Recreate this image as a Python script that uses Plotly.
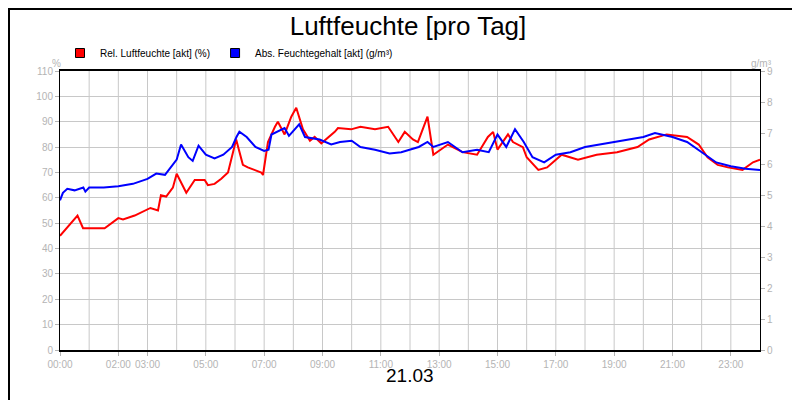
import plotly.graph_objects as go

# Relative humidity (%), hours since midnight
rel_hours = [0, 0.5, 0.6, 0.79, 1.53, 2.0, 2.16, 2.56, 3.1, 3.36, 3.46, 3.64, 3.87, 4.0, 4.33,
             4.62, 4.96, 5.07, 5.3, 5.53, 5.76, 6.04, 6.27, 6.44, 6.9, 6.96, 7.13, 7.37, 7.47,
             7.7, 7.93, 8.1, 8.33, 8.57, 8.73, 8.96, 9.42, 9.53, 9.98, 10.3, 10.8, 11.25, 11.6,
             11.82, 12.1, 12.27, 12.6, 12.8, 13.3, 13.8, 14.3, 14.67, 14.85, 15.0, 15.36, 15.53,
             15.87, 16.0, 16.4, 16.7, 17.2, 17.76, 18.4, 19.1, 19.8, 20.2, 20.8, 21.5, 21.9,
             22.2, 22.55, 22.9, 23.4, 23.76, 24.0]
rel_values = [45, 52, 53, 48, 48, 52, 51.5, 53, 56, 55, 61, 60.5, 64, 69.5, 62,
              67, 67, 65, 65.5, 67.5, 70, 83, 73, 72, 70, 69, 82, 88, 90,
              85, 92, 95.5, 87, 82.5, 84, 81.5, 86, 87.5, 87, 88, 87, 88, 82,
              86, 83, 82, 92, 77, 81, 78, 77, 84, 86, 79, 85, 82,
              80, 76, 71, 72, 77, 75, 77, 78, 80, 83, 85, 84, 81,
              76, 73, 72, 71, 74, 75]

# Absolute moisture content (g/m³)
abs_hours = [0, 0.1, 0.25, 0.5, 0.8, 0.87, 1.0, 1.5, 2.0, 2.5, 3.0, 3.3, 3.6, 3.9, 4.0, 4.15,
             4.4, 4.55, 4.75, 5.0, 5.3, 5.6, 5.9, 6.05, 6.15, 6.4, 6.7, 7.0, 7.15, 7.25, 7.45,
             7.7, 7.85, 8.2, 8.4, 8.9, 9.3, 9.6, 10.0, 10.3, 10.8, 11.3, 11.7, 12.0, 12.3,
             12.6, 12.8, 13.3, 13.8, 14.3, 14.7, 15.0, 15.3, 15.6, 15.9, 16.2, 16.6, 17.0,
             17.5, 18.0, 18.5, 19.0, 19.5, 20.0, 20.4, 21.0, 21.5, 22.0, 22.5, 23.0, 23.5, 24.0]
abs_values = [4.83, 5.07, 5.2, 5.15, 5.24, 5.11, 5.24, 5.24, 5.28, 5.36, 5.52, 5.69, 5.65, 6.01,
              6.14, 6.63, 6.22, 6.1, 6.59, 6.3, 6.18, 6.3, 6.55, 6.87, 7.04, 6.87, 6.55, 6.42,
              6.46, 6.95, 7.04, 7.16, 6.91, 7.28, 6.87, 6.79, 6.63, 6.71, 6.75, 6.55, 6.46,
              6.34, 6.38, 6.46, 6.55, 6.71, 6.55, 6.71, 6.38, 6.46, 6.38, 6.95, 6.55, 7.12,
              6.71, 6.22, 6.05, 6.3, 6.38, 6.55, 6.63, 6.71, 6.79, 6.87, 7.0, 6.87, 6.71,
              6.38, 6.05, 5.93, 5.85, 5.81]

tick_hours = [0, 2, 3, 5, 7, 9, 11, 13, 15, 17, 19, 21, 23]
tick_labels = ["00:00", "02:00", "03:00", "05:00", "07:00", "09:00", "11:00", "13:00",
               "15:00", "17:00", "19:00", "21:00", "23:00"]

grey = "#b4b4b4"
grid = "#c8c8c8"
font = "Liberation Sans, Arial, sans-serif"

# plot area in pixels
L, R, T, B = 52, 48, 63, 58
pw, ph = 800 - L - R, 400 - T - B

fig = go.Figure()
fig.add_trace(go.Scatter(x=rel_hours, y=rel_values, mode="lines", showlegend=False,
                         line=dict(color="#ff0000", width=2)))
fig.add_trace(go.Scatter(x=abs_hours, y=abs_values, mode="lines", showlegend=False,
                         line=dict(color="#0000ff", width=2), yaxis="y2"))

# square legend markers
for name, col in [("Rel. Luftfeuchte [akt] (%)", "#ff0000"),
                  ("Abs. Feuchtegehalt [akt] (g/m³)", "#0000ff")]:
    fig.add_trace(go.Scatter(x=[None], y=[None], mode="markers", name=name,
                             marker=dict(symbol="square", size=9, color=col,
                                         line=dict(color="black", width=1))))

shapes = []
for h in range(1, 24):
    shapes.append(dict(type="line", xref="x", yref="paper", x0=h, x1=h, y0=0, y1=1,
                       line=dict(color=grid, width=1), layer="below"))
shapes.append(dict(type="rect", xref="paper", yref="paper",
                   x0=-(L - 1) / pw, x1=1 + (R - 1) / pw, y0=-(B - 1) / ph, y1=1 + (T - 1) / ph,
                   line=dict(color="black", width=2)))

fig.update_layout(
    width=800, height=400,
    margin=dict(l=L, r=R, t=T, b=B, autoexpand=False),
    paper_bgcolor="white", plot_bgcolor="white",
    font=dict(family=font, color="black"),
    title=dict(text="Luftfeuchte [pro Tag]", x=0.5, y=1 - 18 / 400, xanchor="center",
               yanchor="middle", font=dict(size=26, color="black")),
    showlegend=True,
    legend=dict(orientation="h", x=0.0, y=1 + 18 / ph, xanchor="left", yanchor="middle",
                font=dict(size=10), bgcolor="rgba(0,0,0,0)", itemwidth=30, tracegroupgap=0),
    xaxis=dict(range=[0, 24], tickvals=tick_hours, ticktext=tick_labels, showgrid=False,
               zeroline=False, showline=True, linecolor="black", linewidth=2, mirror=True,
               ticks="outside", ticklen=4, tickcolor=grey, tickfont=dict(size=10, color=grey)),
    yaxis=dict(range=[0, 110], dtick=10, showgrid=True, gridcolor=grid, zeroline=False,
               showline=True, linecolor="black", linewidth=1, mirror=True,
               ticks="outside", ticklen=4, tickcolor=grey, tickfont=dict(size=10, color=grey)),
    yaxis2=dict(range=[0, 9], dtick=1, overlaying="y", side="right", showgrid=False,
                zeroline=False, ticks="outside", ticklen=4, tickcolor=grey,
                tickfont=dict(size=10, color=grey)),
    shapes=shapes,
)

fig.add_annotation(text="%", xref="paper", yref="paper", x=-10 / pw, y=1 + 15 / ph,
                   showarrow=False, font=dict(size=10, color=grey))
fig.add_annotation(text="g/m³", xref="paper", yref="paper", x=1 + 14 / pw, y=1 + 15 / ph,
                   showarrow=False, font=dict(size=10, color=grey))
fig.add_annotation(text="21.03", xref="paper", yref="paper", x=0.5, y=-38 / ph,
                   showarrow=False, font=dict(size=19, color="black"))

fig.write_html("out.html")
